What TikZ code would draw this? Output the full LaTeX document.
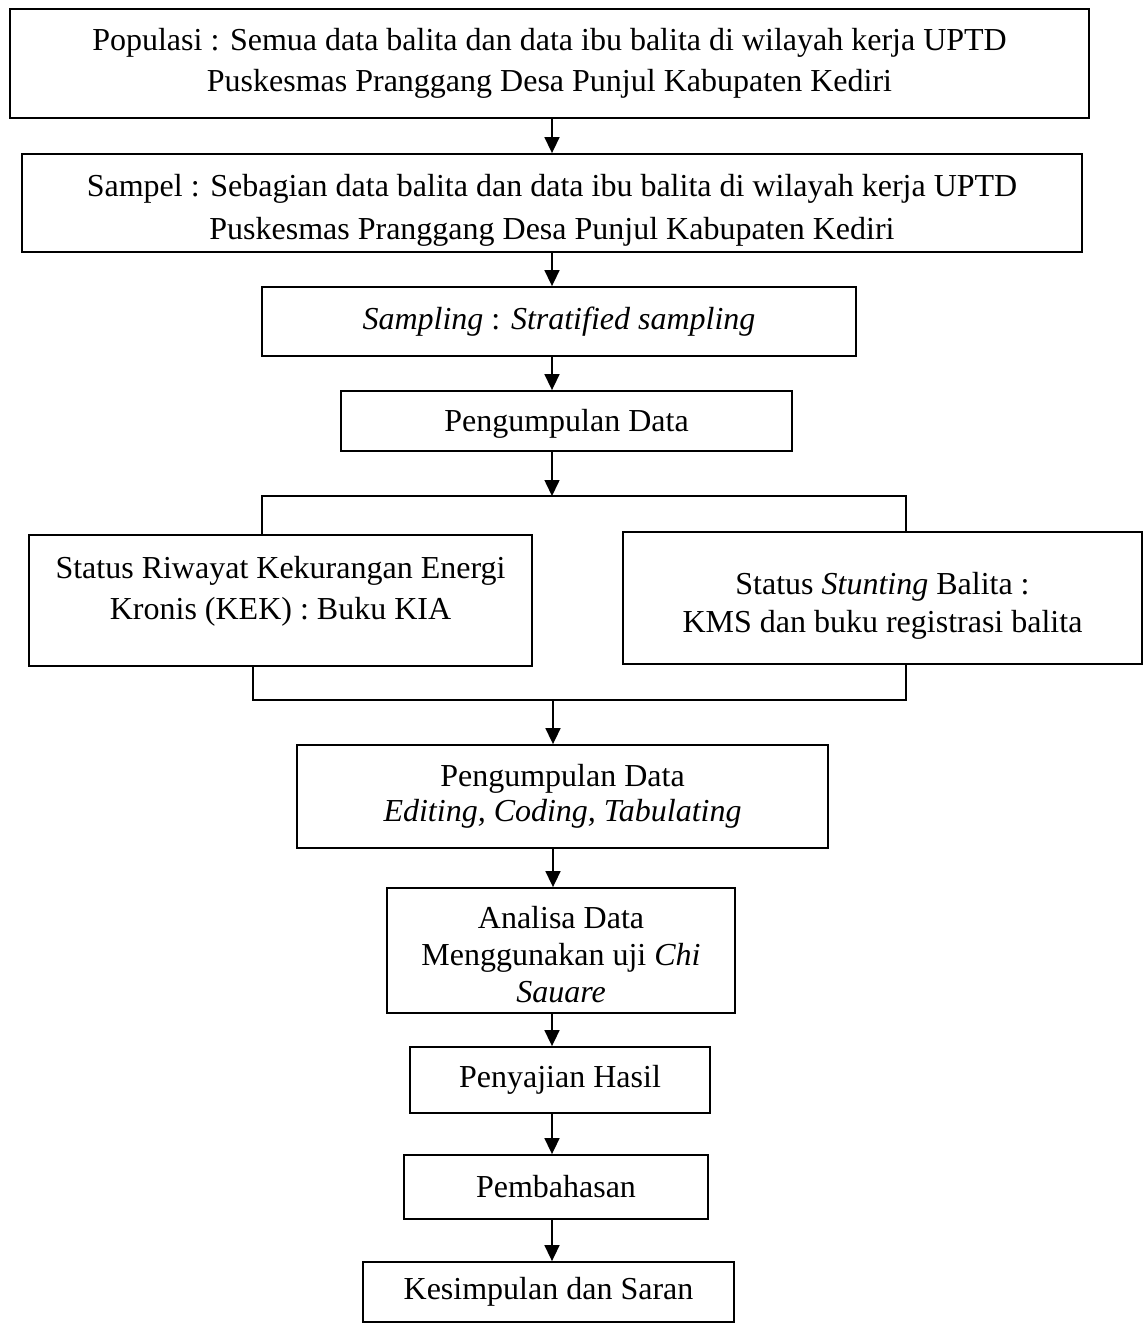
\documentclass[tikz,border=0pt]{standalone}
\usepackage{fontspec}
\setmainfont{Liberation Serif}
\usetikzlibrary{arrows.meta}
\begin{document}
\begin{tikzpicture}[x=0.5pt,y=-0.5pt,
  box/.style={draw, line width=0.9pt, inner sep=0pt, align=center, font=\fontsize{16}{20.5}\selectfont},
  arr/.style={line width=0.8pt, -{Triangle[length=8pt,width=7.5pt]}},
  ln/.style={line width=0.8pt}]
\useasboundingbox (0,0) rectangle (1146,1327);
\node[box, minimum width=539.5pt, minimum height=54.5pt] (b1) at (549.5,63.5)
  {Populasi : Semua data balita dan data ibu balita di wilayah kerja UPTD\\Puskesmas Pranggang Desa Punjul Kabupaten Kediri};
\node[box, minimum width=530pt, minimum height=49pt, font=\fontsize{16}{21.5}\selectfont] (b2) at (552,203)
  {\rule{0pt}{18pt}Sampel : Sebagian data balita dan data ibu balita di wilayah kerja UPTD\\Puskesmas Pranggang Desa Punjul Kabupaten Kediri};
\node[box, minimum width=297pt, minimum height=34.5pt] (b3) at (559,321.5)
  {\textit{Sampling} : \textit{Stratified sampling}};
\node[box, minimum width=225.5pt, minimum height=30pt] (b4) at (566.5,421)
  {\rule{0pt}{14pt}Pengumpulan Data};
\node[box, minimum width=251.5pt, minimum height=65.5pt] (b5) at (280.5,600.5)
  {Status Riwayat Kekurangan Energi\\Kronis (KEK) : Buku KIA\\[-8pt]\mbox{}};
\node[box, minimum width=259.5pt, minimum height=66pt, font=\fontsize{16}{19}\selectfont] (b6) at (882.5,598)
  {\rule{0pt}{19pt}Status \textit{Stunting} Balita :\\KMS dan buku registrasi balita};
\node[box, minimum width=265.5pt, minimum height=51.5pt, font=\fontsize{16}{17.5}\selectfont] (b7) at (562.5,796.5)
  {Pengumpulan Data\\\textit{Editing, Coding, Tabulating}};
\node[box, minimum width=174pt, minimum height=62.5pt, font=\fontsize{16}{18.5}\selectfont] (b8) at (561,950.5)
  {\rule{0pt}{15pt}Analisa Data\\Menggunakan uji \textit{Chi}\\\textit{Sauare}};
\node[box, minimum width=150pt, minimum height=33pt] (b9) at (560,1080)
  {Penyajian Hasil};
\node[box, minimum width=152pt, minimum height=32pt] (b10) at (556,1187)
  {Pembahasan};
\node[box, minimum width=185.5pt, minimum height=30pt] (b11) at (548.5,1292)
  {Kesimpulan dan Saran};
\coordinate (ax) at (552,0);
\coordinate (jt) at (552,496);
\coordinate (jb) at (553,700);
\coordinate (tl) at (262,496);
\coordinate (tr) at (906,496);
\coordinate (bl) at (253,700);
\coordinate (br) at (906,700);
\draw[arr] (b1.south -| ax) -- (b2.north -| ax);
\draw[arr] (b2.south -| ax) -- (b3.north -| ax);
\draw[arr] (b3.south -| ax) -- (b4.north -| ax);
\draw[arr] (b4.south -| ax) -- (jt);
\draw[ln] (b5.north -| tl) -- (tl) -- (tr) -- (b6.north -| tr);
\draw[ln] (b5.south -| bl) -- (bl) -- (br) -- (b6.south -| br);
\draw[arr] (jb) -- (b7.north -| jb);
\draw[arr] (b7.south -| jb) -- (b8.north -| jb);
\draw[arr] (b8.south -| ax) -- (b9.north -| ax);
\draw[arr] (b9.south -| ax) -- (b10.north -| ax);
\draw[arr] (b10.south -| ax) -- (b11.north -| ax);
\end{tikzpicture}
\end{document}
